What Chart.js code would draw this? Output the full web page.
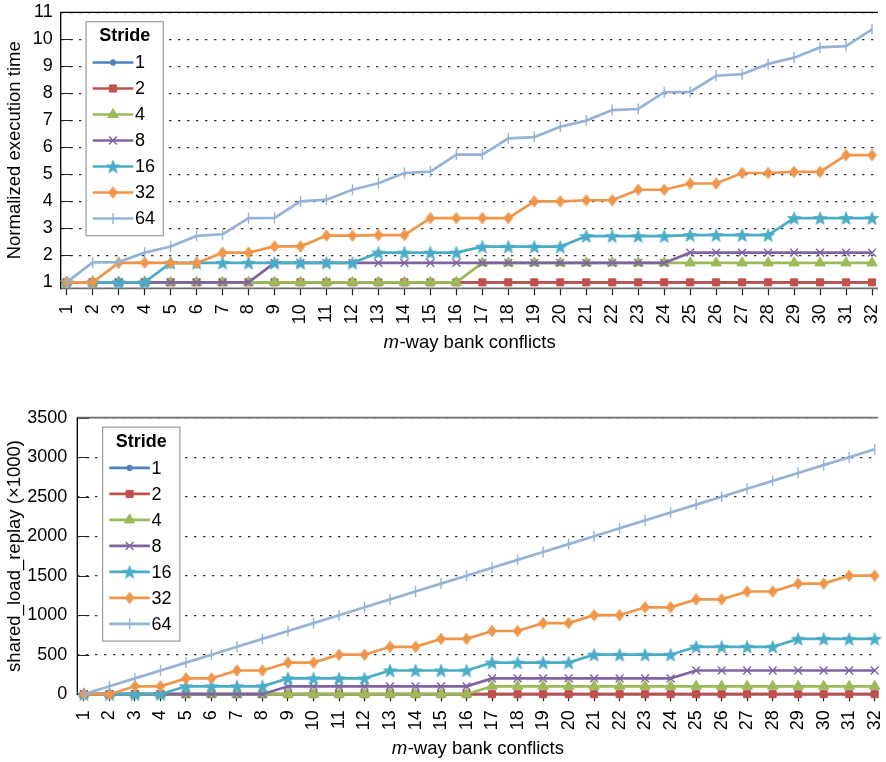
<!DOCTYPE html>
<html><head><meta charset="utf-8">
<script src="https://cdn.jsdelivr.net/npm/chart.js@4.4.1/dist/chart.umd.min.js"></script>
<style>
html,body{margin:0;padding:0;background:#fff;width:886px;height:762px;overflow:hidden}
.box{position:absolute;left:0;width:886px;height:362px}
#w1{top:0}
#w2{top:400px}
canvas{display:block}
</style></head><body>
<div class="box" id="w1"><canvas id="c1" width="886" height="362" style="width:886px;height:362px"></canvas></div>
<div class="box" id="w2"><canvas id="c2" width="886" height="362" style="width:886px;height:362px"></canvas></div>
<script>
// ---------------- data ----------------
const categories = [1,2,3,4,5,6,7,8,9,10,11,12,13,14,15,16,17,18,19,20,21,22,23,24,25,26,27,28,29,30,31,32];
const strides = ['1','2','4','8','16','32','64'];

// top chart: normalized execution time
const timeStride1  = [1,1,1,1,1,1,1,1,1,1,1,1,1,1,1,1,1,1,1,1,1,1,1,1,1,1,1,1,1,1,1,1];
const timeStride2  = [1,1,1,1,1,1,1,1,1,1,1,1,1,1,1,1,1,1,1,1,1,1,1,1,1,1,1,1,1,1,1,1];
const timeStride4  = [1,1,1,1,1,1,1,1,1,1,1,1,1,1,1,1,1.72,1.72,1.72,1.72,1.72,1.72,1.72,1.72,1.72,1.72,1.72,1.72,1.72,1.72,1.72,1.72];
const timeStride8  = [1,1,1,1,1,1,1,1,1.72,1.72,1.72,1.72,1.72,1.72,1.72,1.72,1.72,1.72,1.72,1.72,1.72,1.72,1.72,1.72,2.1,2.1,2.1,2.1,2.1,2.1,2.1,2.1];
const timeStride16 = [1,1,1,1,1.72,1.72,1.72,1.72,1.72,1.72,1.72,1.72,2.1,2.1,2.1,2.1,2.32,2.32,2.32,2.32,2.71,2.71,2.71,2.71,2.75,2.75,2.75,2.75,3.38,3.38,3.38,3.38];
const timeStride32 = [1,1,1.72,1.73,1.71,1.71,2.1,2.1,2.33,2.33,2.73,2.73,2.75,2.75,3.38,3.38,3.38,3.38,4.0,4.0,4.04,4.04,4.43,4.43,4.66,4.66,5.05,5.05,5.09,5.09,5.71,5.71];
const timeStride64 = [1,1.74,1.75,2.1,2.33,2.72,2.78,3.38,3.39,4.0,4.06,4.43,4.67,5.05,5.1,5.73,5.73,6.33,6.38,6.76,6.99,7.38,7.42,8.04,8.05,8.65,8.71,9.09,9.32,9.7,9.75,10.37];

// bottom chart: shared_load_replay (x1000)
const replayStride1  = [0,0,0,0,0,0,0,0,0,0,0,0,0,0,0,0,0,0,0,0,0,0,0,0,0,0,0,0,0,0,0,0];
const replayStride2  = [0,0,0,0,0,0,0,0,0,0,0,0,0,0,0,0,0,0,0,0,0,0,0,0,0,0,0,0,0,0,0,0];
const replayStride4  = [0,0,0,0,0,0,0,0,0,0,0,0,0,0,0,0,100,100,100,100,100,100,100,100,100,100,100,100,100,100,100,100];
const replayStride8  = [0,0,0,0,0,0,0,0,100,100,100,100,100,100,100,100,200,200,200,200,200,200,200,200,300,300,300,300,300,300,300,300];
const replayStride16 = [0,0,0,0,100,100,100,100,200,200,200,200,300,300,300,300,400,400,400,400,500,500,500,500,600,600,600,600,700,700,700,700];
const replayStride32 = [0,0,100,100,200,200,300,300,400,400,500,500,600,600,700,700,800,800,900,900,1000,1000,1100,1100,1200,1200,1300,1300,1400,1400,1500,1500];
const replayStride64 = [0,100,200,300,400,500,600,700,800,900,1000,1100,1200,1300,1400,1500,1600,1700,1800,1900,2000,2100,2200,2300,2400,2500,2600,2700,2800,2900,3000,3100];

const timeTicks = [1,2,3,4,5,6,7,8,9,10,11];
const replayTicks = [0,500,1000,1500,2000,2500,3000,3500];

const xTitleItalic = 'm';
const xTitleRest = '-way bank conflicts';
const yTitleTop = 'Normalized execution time';
const yTitleBottom = 'shared_load_replay (\u00d71000)';
const legendTitle = 'Stride';

// ---------------- styles ----------------
const FONT = '"Liberation Sans", Arial, sans-serif';
const colors = ['#4F81BD','#C0504D','#9BBB59','#8064A2','#4BACC6','#F0964A','#95B3D7'];

function starCanvas(color){
  const c=document.createElement('canvas'); c.width=16; c.height=16;
  const g=c.getContext('2d'); g.beginPath();
  for(let k=0;k<10;k++){const r=k%2?2.9:7; const a=-Math.PI/2+k*Math.PI/5; g.lineTo(8+r*Math.cos(a),8.7+r*Math.sin(a));}
  g.closePath(); g.fillStyle=color; g.fill(); g.strokeStyle=color; g.lineWidth=0.8; g.stroke();
  return c;
}
function diamondCanvas(color){
  const c=document.createElement('canvas'); c.width=12; c.height=14;
  const g=c.getContext('2d'); g.beginPath();
  g.moveTo(6,1.2); g.lineTo(10.4,7); g.lineTo(6,12.8); g.lineTo(1.6,7); g.closePath();
  g.fillStyle=color; g.fill(); g.strokeStyle=color; g.lineWidth=0.8; g.stroke();
  return c;
}
const markers = [
  {style:'circle', r:2.8, bw:1, rot:0},
  {style:'rect', r:5, bw:1, rot:0},
  {style:'triangle', r:6, bw:1, rot:0},
  {style:'crossRot', r:5.5, bw:1.4, rot:0},
  {style:starCanvas(colors[4]), r:7, bw:1, rot:0},
  {style:diamondCanvas(colors[5]), r:6, bw:1, rot:0},
  {style:'line', r:5.5, bw:1.4, rot:90}
];

function buildDatasets(seriesList){
  return seriesList.map((vals,i)=>({
    label: strides[i],
    data: categories.map((x,j)=>({x:x, y:vals[j]})),
    borderColor: colors[i], backgroundColor: colors[i],
    borderWidth: 2.7, tension: 0, fill: false, clip: false,
    pointStyle: markers[i].style, pointRadius: markers[i].r, pointHoverRadius: markers[i].r,
    pointRotation: markers[i].rot, pointBorderWidth: markers[i].bw,
    pointBackgroundColor: colors[i], pointBorderColor: colors[i],
    order: 6 - i
  }));
}

function decoPlugin(geo){
  return {
    id: 'deco',
    beforeDatasetsDraw(chart){
      const ctx = chart.ctx, ca = chart.chartArea, ys = chart.scales.y;
      ctx.save();
      ctx.strokeStyle = '#222'; ctx.lineWidth = 1;
      geo.yTicks.forEach(v=>{
        const py = Math.round(ys.getPixelForValue(v)) + 0.5;
        ctx.beginPath(); ctx.moveTo(ca.left, py); ctx.lineTo(ca.left + 12, py); ctx.stroke();
      });
      ctx.strokeStyle = geo.topColor; ctx.lineWidth = geo.topWidth;
      ctx.beginPath(); ctx.moveTo(ca.left, ca.top); ctx.lineTo(ca.right, ca.top); ctx.stroke();
      ctx.strokeStyle = '#6e6e6e'; ctx.lineWidth = 1.8;
      ctx.beginPath(); ctx.moveTo(ca.left, ca.bottom); ctx.lineTo(ca.right, ca.bottom); ctx.stroke();
      ctx.strokeStyle = '#000'; ctx.lineWidth = 1.3;
      ctx.beginPath(); ctx.moveTo(ca.left, ca.top); ctx.lineTo(ca.left, ca.bottom + 0.9); ctx.stroke();
      ctx.restore();
    },
    afterDraw(chart){
      const ctx = chart.ctx, ca = chart.chartArea;
      ctx.save();
      ctx.fillStyle = '#000'; ctx.textBaseline = 'middle'; ctx.textAlign = 'left';
      const fI = 'italic 18.5px ' + FONT, fR = '18.5px ' + FONT;
      ctx.font = fI; const w1 = ctx.measureText(xTitleItalic).width;
      ctx.font = fR; const w2 = ctx.measureText(xTitleRest).width;
      const cx = (ca.left + ca.right) / 2, ty = ca.bottom + 54.6;
      const sx = cx - (w1 + w2) / 2;
      ctx.font = fI; ctx.fillText(xTitleItalic, sx, ty);
      ctx.font = fR; ctx.fillText(xTitleRest, sx + w1 + 0.5, ty);
      const bx = ca.left + 25.3, by = ca.top + 9.4, bw = 77.3, bh = 214;
      ctx.fillStyle = '#fff'; ctx.fillRect(bx, by, bw, bh);
      ctx.strokeStyle = '#9a9a9a'; ctx.lineWidth = 1.2; ctx.strokeRect(bx, by, bw, bh);
      ctx.fillStyle = '#000'; ctx.textAlign = 'center';
      ctx.font = 'bold 18px ' + FONT;
      ctx.fillText(legendTitle, bx + bw / 2, by + 14.6);
      ctx.textAlign = 'left'; ctx.font = '18px ' + FONT;
      strides.forEach((s,i)=>{
        const ly = by + 40.8 + i * 26;
        const x0 = bx + 6.7, x1 = bx + 47.3;
        ctx.strokeStyle = colors[i]; ctx.lineWidth = 2.7;
        ctx.beginPath(); ctx.moveTo(x0, ly); ctx.lineTo(x1, ly); ctx.stroke();
        ctx.fillStyle = colors[i]; ctx.strokeStyle = colors[i];
        ctx.lineWidth = markers[i].bw;
        Chart.helpers.drawPoint(ctx, {pointStyle: markers[i].style, radius: markers[i].r, rotation: markers[i].rot, borderWidth: markers[i].bw}, (x0 + x1) / 2, ly);
        ctx.fillStyle = '#000';
        ctx.fillText(s, bx + 49, ly + 1);
      });
      ctx.restore();
    }
  };
}

function makeChart(id, seriesList, geo){
  const H = 362;
  return new Chart(document.getElementById(id), {
    type: 'line',
    data: { datasets: buildDatasets(seriesList) },
    options: {
      responsive: false, animation: false, devicePixelRatio: 1,
      layout: { padding: { top: geo.caTop, left: 0, right: 0, bottom: 0 } },
      plugins: { legend: { display: false }, tooltip: { enabled: false } },
      events: [],
      scales: {
        x: {
          type: 'linear', min: geo.xMin, max: geo.xMax,
          afterBuildTicks: s => { s.ticks = categories.map(v => ({ value: v })); },
          afterFit: s => { s.height = H - geo.caBottom; s.paddingLeft = 0; s.paddingRight = 0; },
          grid: { drawOnChartArea: false, drawTicks: true, tickLength: 7, tickColor: '#222', tickWidth: 1.2 },
          border: { display: false },
          ticks: { minRotation: 90, maxRotation: 90, autoSkip: false, padding: 9, color: '#000',
                   font: { family: FONT, size: 18 }, callback: v => String(v) }
        },
        y: {
          type: 'linear', min: geo.yMin, max: geo.yMax,
          afterBuildTicks: s => { s.ticks = geo.yTicks.map(v => ({ value: v })); },
          afterFit: s => { s.width = geo.yWidth; s.paddingTop = 0; s.paddingBottom = 0; },
          grid: { drawOnChartArea: true, drawTicks: false, color: '#333', lineWidth: 1.3 },
          border: { display: false, dash: [2.4, 6.6] },
          ticks: { padding: geo.tickPad, color: '#000', font: { family: FONT, size: 18 }, callback: v => String(v) },
          title: { display: true, text: geo.yTitle, color: '#000', font: { family: FONT, size: 18.5 }, padding: { top: 4, bottom: 0 } }
        }
      }
    },
    plugins: [decoPlugin(geo)]
  });
}

makeChart('c1',
  [timeStride1, timeStride2, timeStride4, timeStride8, timeStride16, timeStride32, timeStride64],
  { caTop: 12.3, caBottom: 288.3, yWidth: 60.7, xMin: 0.77, xMax: 32.23, yMin: 0.78, yMax: 11,
    yTicks: timeTicks, yTitle: yTitleTop, tickPad: 8, topColor: '#000', topWidth: 1.2 });

makeChart('c2',
  [replayStride1, replayStride2, replayStride4, replayStride8, replayStride16, replayStride32, replayStride64],
  { caTop: 17.7, caBottom: 294.2, yWidth: 77.3, xMin: 0.74, xMax: 32.13, yMin: 0, yMax: 3500,
    yTicks: replayTicks, yTitle: yTitleBottom, tickPad: 10, topColor: '#6e6e6e', topWidth: 1.8 });
</script>
</body></html>
